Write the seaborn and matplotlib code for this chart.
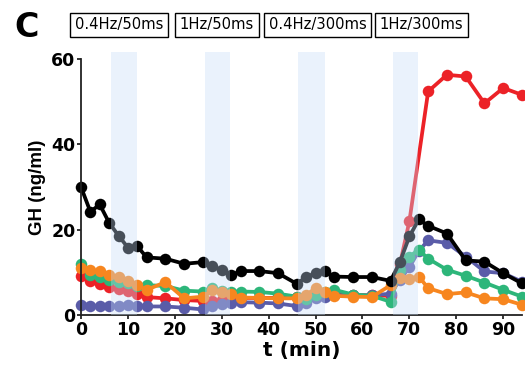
import numpy as np
import pandas as pd
import matplotlib
matplotlib.use("Agg")
import matplotlib.pyplot as plt
import seaborn as sns

# ---- data ----
times = [0, 2, 4, 6, 8, 10, 12, 14, 18, 22, 26, 28, 30, 32, 34, 38, 42, 46, 48, 50,
         52, 54, 58, 62, 66, 68, 70, 72, 74, 78, 82, 86, 90, 94]
gh_black = [30.0, 24.2, 25.9, 21.6, 18.6, 15.8, 16.1, 13.5, 13.2, 12.0, 12.4, 11.5, 10.5, 9.3,
            10.3, 10.3, 9.8, 7.3, 8.9, 9.8, 10.2, 9.0, 8.9, 8.9, 8.0, 12.5, 18.4, 22.4, 20.9,
            19.1, 12.8, 12.5, 9.8, 7.4]
gh_red = [9.2, 8.0, 7.3, 6.6, 6.2, 5.6, 5.0, 4.2, 3.9, 3.5, 3.3, 3.2, 3.5, 3.8, 4.0, 4.0, 4.0,
          4.2, 4.5, 4.8, 5.0, 4.8, 4.7, 4.6, 4.5, 12.0, 22.0, np.nan, 52.4, 56.3, 55.9, 49.6,
          53.2, 51.6]
gh_green = [12.0, 9.3, 8.8, 8.2, 7.8, 7.4, 6.7, 7.0, 6.8, 5.7, 5.5, 6.3, 5.6, 5.4, 5.5, 5.4,
            5.0, 4.3, 3.8, 4.7, 5.3, 5.9, 4.8, 4.5, 3.1, 10.6, 13.7, 15.3, 13.2, 10.6, 9.2, 7.6,
            5.9, 4.3]
gh_orange = [11.1, 10.6, 10.2, 9.4, 8.8, 8.0, 7.0, 5.9, 7.7, 3.9, 4.3, 5.9, 5.4, 5.0, 4.1, 4.0,
             3.9, 3.9, 4.7, 6.3, 5.3, 4.5, 4.3, 4.2, 7.0, 8.6, 8.5, 9.0, 6.3, 4.9, 5.3, 3.9,
             3.7, 2.4]
gh_blue = [2.3, 2.0, 2.0, 2.0, 2.2, 2.4, 2.2, 2.0, 2.0, 1.7, 1.3, 2.0, 2.5, 2.7, 3.0, 2.9, 2.7,
           2.1, 2.8, 4.0, 4.3, 4.6, 4.6, 4.6, 5.0, 8.2, 11.2, 15.0, 17.5, 16.9, 13.7, 10.2,
           9.8, 7.8]

series_names = ["red", "blue", "green", "orange", "black"]
series_values = [gh_red, gh_blue, gh_green, gh_orange, gh_black]
palette = {"red": "#ec2227", "blue": "#5a5ca8", "green": "#2db67a",
           "orange": "#f7861f", "black": "#000000"}

stim_starts = [6.5, 26.4, 46.3, 66.5]
stim_ends = [12.0, 31.8, 52.0, 71.8]
stim_labels = ["0.4Hz/50ms", "1Hz/50ms", "0.4Hz/300ms", "1Hz/300ms"]

x_ticks = [0, 10, 20, 30, 40, 50, 60, 70, 80, 90]
y_ticks = [0, 20, 40, 60]

rows = []
for name, vals in zip(series_names, series_values):
    for t, v in zip(times, vals):
        if not np.isnan(v):
            rows.append({"t": t, "GH": v, "series": name})
df = pd.DataFrame(rows)

# ---- plot ----
sns.set_style("ticks")
plt.rcParams["font.family"] = ["DejaVu Sans"]
plt.rcParams["text.color"] = "black"
plt.rcParams["axes.labelcolor"] = "black"
plt.rcParams["xtick.color"] = "black"
plt.rcParams["ytick.color"] = "black"

fig = plt.figure(figsize=(5.25, 3.76), dpi=100)
ax = fig.add_axes([81 / 525, 1 - 315 / 376, 441 / 525, 256 / 376])

sns.lineplot(data=df, x="t", y="GH", hue="series", hue_order=series_names,
             palette=palette, marker="o", markersize=8.3, markeredgewidth=0,
             linewidth=2.7, legend=False, ax=ax, clip_on=False, zorder=2)

for s, e in zip(stim_starts, stim_ends):
    ax.axvspan(s, e, ymin=0, ymax=61.6 / 60, color="#c6ddf9", alpha=0.36,
               lw=0, zorder=3, clip_on=False)

ax.set_xlim(0, 94)
ax.set_ylim(0, 60)
ax.set_xticks(x_ticks)
ax.set_yticks(y_ticks)
for lab in ax.get_xticklabels() + ax.get_yticklabels():
    lab.set_fontweight("bold")
    lab.set_fontsize(12.5)
ax.tick_params(direction="out", length=3, width=1.1, colors="black", pad=1)
ax.set_xlabel("t (min)", fontsize=14.5, fontweight="bold", labelpad=2)
ax.set_ylabel("GH (ng/ml)", fontsize=13.5, fontweight="bold", labelpad=4,
              family="Liberation Sans")
sns.despine(ax=ax)
for sp in ["left", "bottom"]:
    ax.spines[sp].set_linewidth(1.3)
    ax.spines[sp].set_color("#222222")

fig.text(14 / 525, 1 - 37 / 376, "C", fontsize=24, fontweight="bold",
         va="baseline", ha="left")
centers = [119, 217, 317.7, 421.5]
for cx, lab in zip(centers, stim_labels):
    fig.text(cx / 525, 1 - 25 / 376, lab, fontsize=10.6, ha="center", va="center",
             bbox=dict(boxstyle="square,pad=0.3", fc="white", ec="black", lw=1))

fig.savefig("out.png", dpi=100)
